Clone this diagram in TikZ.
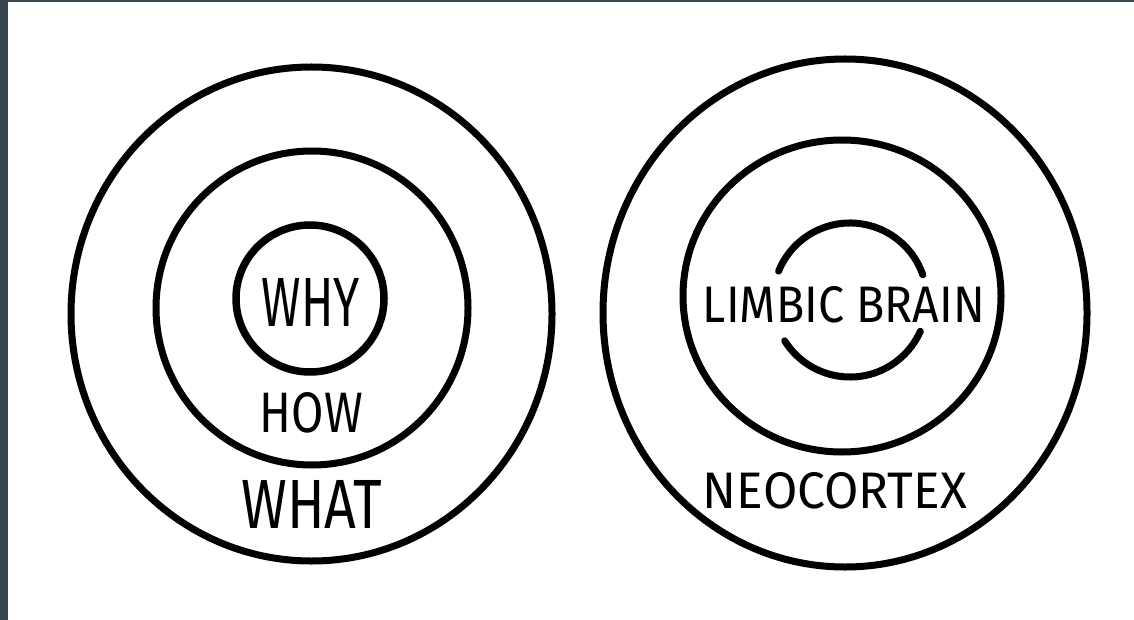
\documentclass[tikz,border=0pt]{standalone}
\usepackage{fontspec}
\setsansfont{Fira Sans}
\definecolor{frame}{HTML}{37474F}
\begin{document}
\begin{tikzpicture}[x=1pt,y=-1pt,
  ring/.style={draw=black, line width=7pt, line cap=round},
  lbl/.style={inner sep=0pt, font=\sffamily}]
\useasboundingbox (0,0) rectangle (1134,620);
\fill[frame] (0,0) rectangle (1134,620);
\fill[white] (8,2) rectangle (1134,620);
% left diagram
\draw[ring] (311.5,314) ellipse [x radius=240.5pt, y radius=247pt];
\draw[ring] (312,308) ellipse [x radius=156pt, y radius=157pt];
\draw[ring, line width=7.5pt] (310,298.5) ellipse [x radius=74pt, y radius=73.5pt];
\node[lbl] (why) at (311,302) {\resizebox{98pt}{48pt}{WHY}};
\node[lbl] (how) at (311.5,413) {\resizebox{103pt}{40pt}{HOW}};
\node[lbl] (what) at (312,504) {\resizebox{141pt}{48pt}{WHAT}};
% right diagram
\draw[ring] (845,313) ellipse [x radius=242pt, y radius=254pt];
\draw[ring] (842,296) ellipse [x radius=159pt, y radius=156pt];
\draw[ring] ([shift={(19:77pt)}]850,300) arc[start angle=19, end angle=158, radius=77pt];
\draw[ring] ([shift={(212:77pt)}]850,300) arc[start angle=212, end angle=336, radius=77pt];
\node[lbl] (limbic) at (844,305) {\resizebox{282pt}{36pt}{LIMBIC BRAIN}};
\node[lbl] (neo) at (835,491) {\resizebox{264pt}{36pt}{NEOCORTEX}};
\end{tikzpicture}
\end{document}
